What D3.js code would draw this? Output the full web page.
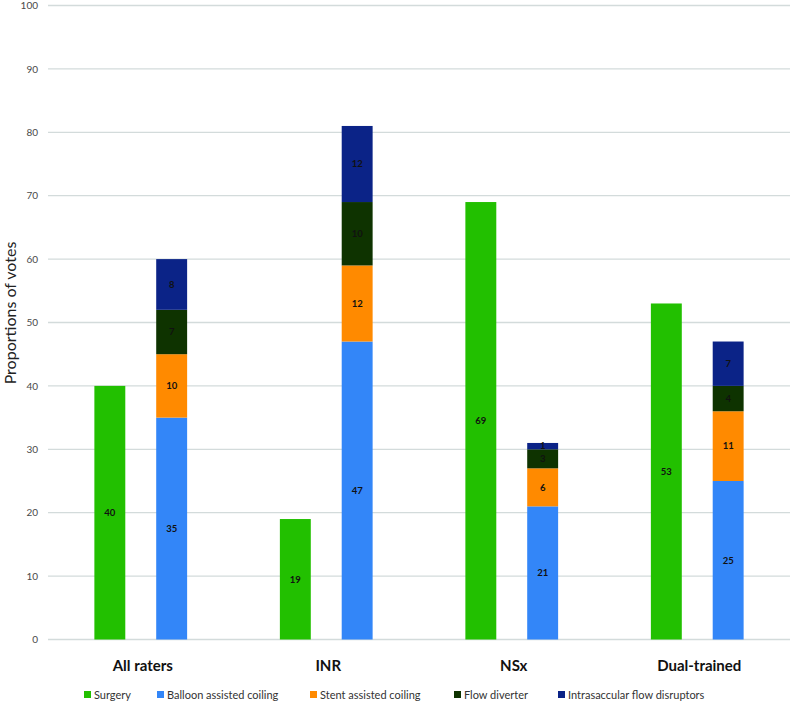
<!DOCTYPE html>
<html><head><meta charset="utf-8">
<script src="https://cdn.jsdelivr.net/npm/d3@7"></script>
<style>body{margin:0;background:#fff;} svg{display:block;font-family:Lato,"Open Sans",sans-serif;}</style>
</head><body>
<svg id="c" width="794" height="703"></svg>
<script>
const categories = ["All raters", "INR", "NSx", "Dual-trained"];
const seriesNames = ["Surgery", "Balloon assisted coiling", "Stent assisted coiling", "Flow diverter", "Intrasaccular flow disruptors"];
const seriesColors = ["#22c000", "#3386f8", "#ff8a00", "#0e3300", "#0b2387"];
const surgery = [40, 19, 69, 53];
const balloon = [35, 47, 21, 25];
const stent = [10, 12, 6, 11];
const flowDiverter = [7, 10, 3, 4];
const intrasaccular = [8, 12, 1, 7];
const yTicks = [0, 10, 20, 30, 40, 50, 60, 70, 80, 90, 100];

const svg = d3.select("#c");
const plot = {left: 48, right: 790, top: 5.5, bottom: 639.5};

const x = d3.scaleBand().domain(categories).range([plot.left, plot.right]);
const xi = d3.scaleBand().domain(["surg", "endo"]).range([0, x.bandwidth()]).paddingInner(0.5).paddingOuter(0.75);
const y = d3.scaleLinear().domain([0, 100]).range([plot.bottom, plot.top]);

// grid
svg.append("g").selectAll("line").data(yTicks).join("line")
  .attr("x1", plot.left).attr("x2", plot.right)
  .attr("y1", d => y(d)).attr("y2", d => y(d))
  .attr("stroke", "#d3dbdb").attr("stroke-width", 1.3);

// y axis labels
const yAxis = d3.axisLeft(y).tickValues(yTicks).tickSize(0).tickPadding(10);
const ya = svg.append("g").attr("transform", `translate(${plot.left},0)`).call(yAxis);
ya.select(".domain").remove();
ya.selectAll("text").attr("font-size", 10).attr("fill", "#4a4a4a").attr("font-family", "Lato, sans-serif");

// bars
const g = svg.append("g");
g.selectAll("rect.s").data(categories).join("rect")
  .attr("x", c => x(c) + xi("surg"))
  .attr("width", xi.bandwidth())
  .attr("y", (c, i) => y(surgery[i]))
  .attr("height", (c, i) => y(0) - y(surgery[i]))
  .attr("fill", seriesColors[0]);
g.selectAll("text.s").data(categories).join("text")
  .attr("x", c => x(c) + xi("surg") + xi.bandwidth() / 2)
  .attr("y", (c, i) => y(surgery[i] / 2))
  .attr("dy", "0.35em").attr("text-anchor", "middle")
  .attr("font-size", 9.5).attr("font-weight", "bold").attr("fill", "#111")
  .text((c, i) => surgery[i]);

const stackSeries = [balloon, stent, flowDiverter, intrasaccular];
categories.forEach((c, i) => {
  let base = 0;
  stackSeries.forEach((arr, k) => {
    const v = arr[i];
    g.append("rect")
      .attr("x", x(c) + xi("endo"))
      .attr("width", xi.bandwidth())
      .attr("y", y(base + v))
      .attr("height", y(base) - y(base + v))
      .attr("fill", seriesColors[k + 1]);
    g.append("text")
      .attr("x", x(c) + xi("endo") + xi.bandwidth() / 2)
      .attr("y", y(base + v / 2))
      .attr("dy", "0.35em").attr("text-anchor", "middle")
      .attr("font-size", 9.5).attr("font-weight", "bold").attr("fill", "#111")
      .text(v);
    base += v;
  });
});

// category labels
svg.append("g").selectAll("text").data(categories).join("text")
  .attr("x", c => x(c) + x.bandwidth() / 2 + 2)
  .attr("y", 671)
  .attr("text-anchor", "middle")
  .attr("font-size", 15).attr("font-weight", "bold").attr("fill", "#111")
  .text(d => d);

// y title
svg.append("text")
  .attr("transform", "translate(16,313) rotate(-90)")
  .attr("text-anchor", "middle")
  .attr("font-size", 16).attr("fill", "#222")
  .text("Proportions of votes");

// legend
const legendX = [84, 157, 310, 454, 558];
const lg = svg.append("g");
seriesNames.forEach((n, i) => {
  lg.append("rect").attr("x", legendX[i]).attr("y", 691).attr("width", 7).attr("height", 7).attr("fill", seriesColors[i]);
  lg.append("text").attr("x", legendX[i] + 10).attr("y", 698.5)
    .attr("font-size", 11).attr("fill", "#333").text(n);
});
</script>
</body></html>
